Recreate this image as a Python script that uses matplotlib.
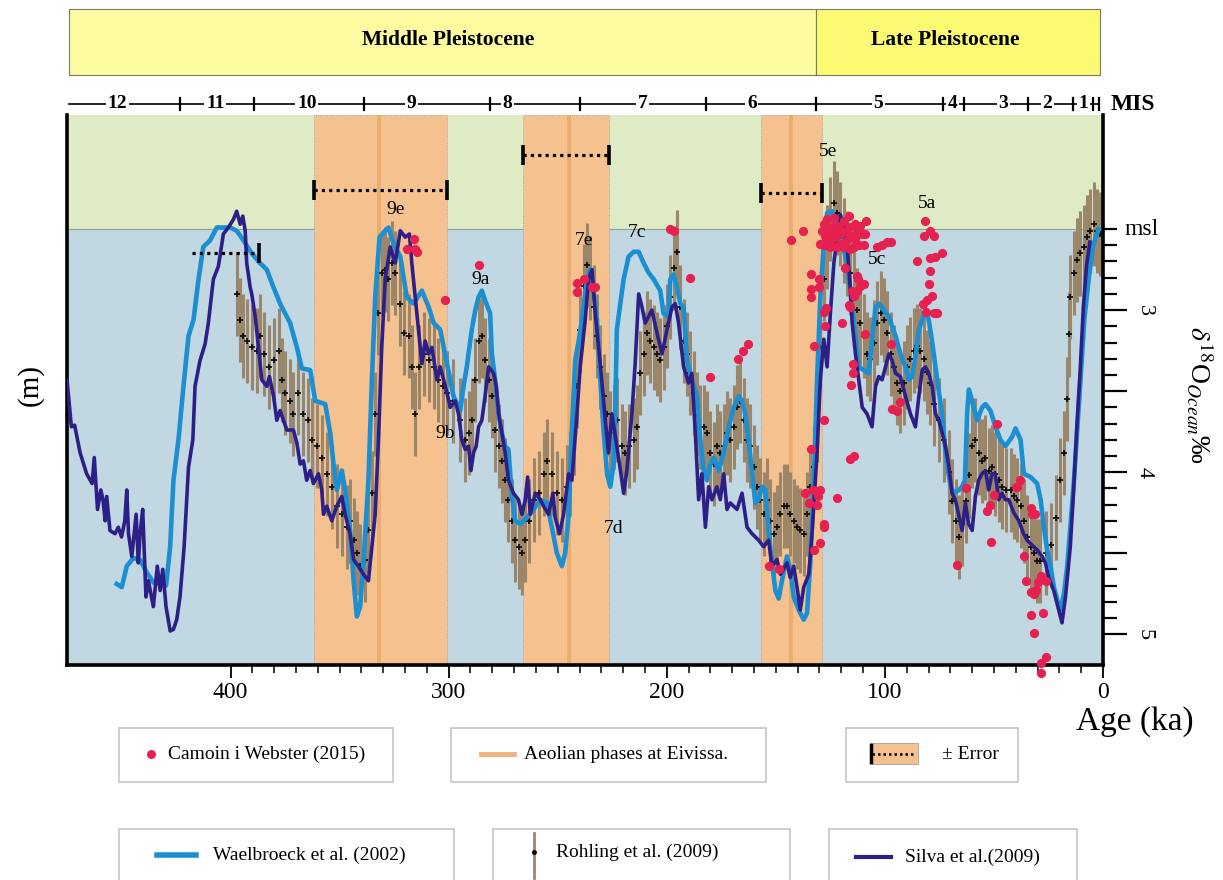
import numpy as np
import matplotlib
matplotlib.use("Agg")
import matplotlib.pyplot as plt
import matplotlib.transforms as mtransforms
from matplotlib.patches import Rectangle
from matplotlib.lines import Line2D

plt.rcParams['font.family'] = ['Liberation Serif', 'DejaVu Serif']
plt.rcParams['mathtext.fontset'] = 'stix'

# ---- data (age in ka, d18O ocean in per mil) ----
silva_age = [475.0, 473.0, 471.5, 469.0, 466.0, 463.5, 462.5, 461.0, 459.5, 458.5, 457.5, 456.8, 455.3, 453.0,
             451.5, 450.0, 448.5, 447.6, 446.8, 445.3, 443.3, 442.3, 441.5, 440.3, 438.8, 437.7, 435.4, 433.6,
             432.3, 431.1, 429.6, 427.7, 426.2, 424.7, 423.2, 421.3, 420.1, 419.3, 417.3, 416.3, 414.0, 411.7,
             410.2, 407.9, 405.6, 403.3, 401.0, 398.7, 397.2, 395.6, 394.4, 393.3, 392.6, 391.0, 390.3, 388.7,
             387.2, 385.7, 383.4, 382.2, 380.3, 378.8, 377.3, 374.2, 371.2, 369.6, 368.1, 366.6, 365.1, 363.5,
             362.0, 359.7, 358.2, 357.4, 355.9, 353.6, 351.3, 349.0, 347.5, 345.2, 343.6, 341.4, 339.1, 336.8,
             335.2, 333.7, 332.2, 330.7, 329.1, 326.8, 324.5, 322.2, 319.9, 318.0, 316.9, 314.6, 312.3, 310.8,
             309.2, 307.7, 305.4, 303.9, 300.8, 299.3, 297.0, 295.5, 294.0, 292.4, 290.9, 289.8, 288.6, 287.4,
             286.3, 284.8, 283.3, 281.7, 279.4, 278.2, 277.1, 275.6, 274.1, 272.6, 270.3, 268.0, 266.4, 264.9,
             263.8, 262.6, 260.3, 258.0, 256.5, 254.2, 252.2, 251.2, 249.2, 247.3, 245.0, 243.5, 241.2, 239.7,
             237.4, 235.9, 234.3, 232.8, 230.5, 228.2, 226.7, 225.2, 222.9, 220.6, 219.8, 218.3, 216.0, 214.5,
             212.9, 211.4, 209.9, 206.8, 204.5, 202.2, 199.9, 197.6, 196.1, 194.6, 192.3, 190.0, 188.5, 186.9,
             185.4, 183.9, 182.3, 180.8, 179.3, 177.0, 175.5, 173.9, 172.4, 170.9, 167.8, 165.5, 163.2, 160.9,
             157.9, 155.6, 153.3, 151.8, 149.5, 147.9, 144.9, 143.4, 141.8, 140.3, 138.8, 137.2, 134.9, 133.4,
             131.1, 129.6, 128.0, 126.5, 125.0, 123.4, 121.9, 120.4, 118.8, 117.3, 115.8, 115.0, 113.5, 112.0,
             110.4, 108.2, 105.9, 104.3, 102.8, 101.3, 99.7, 98.2, 96.7, 95.1, 92.9, 90.6, 88.3, 86.0, 84.4,
             82.9, 81.4, 79.9, 78.3, 76.8, 75.3, 73.7, 72.2, 70.8, 69.2, 67.7, 66.2, 64.6, 63.1, 61.6, 60.0,
             58.5, 57.0, 55.5, 53.9, 52.4, 50.9, 49.4, 47.8, 46.3, 44.8, 43.2, 40.9, 38.6, 36.4, 34.8, 33.3,
             31.8, 30.2, 27.9, 26.4, 24.9, 22.6, 20.3, 18.8, 17.2, 15.0, 13.5, 12.0, 10.5, 9.0, 7.5, 6.0]
silva_d18o = [3.43, 3.72, 3.71, 3.88, 4.01, 4.07, 3.91, 4.23, 4.11, 4.17, 4.30, 4.15, 4.36, 4.38,
              4.34, 4.40, 4.30, 4.11, 4.38, 4.52, 4.26, 4.56, 4.38, 4.23, 4.77, 4.67, 4.83, 4.58,
              4.73, 4.60, 4.83, 4.98, 4.97, 4.91, 4.77, 4.46, 4.17, 3.97, 3.80, 3.47, 3.31, 3.21,
              3.08, 2.81, 2.73, 2.53, 2.49, 2.44, 2.39, 2.47, 2.42, 2.51, 2.71, 2.86, 2.90, 3.04,
              3.23, 3.43, 3.47, 3.41, 3.53, 3.68, 3.62, 3.74, 3.74, 3.82, 3.95, 3.93, 4.05, 3.99,
              4.07, 4.01, 4.11, 4.26, 4.21, 4.30, 4.21, 4.15, 4.26, 4.38, 4.54, 4.58, 4.63, 4.67,
              4.46, 4.26, 3.80, 3.23, 2.81, 2.61, 2.71, 2.51, 2.55, 2.53, 2.71, 3.02, 3.33, 3.19,
              3.27, 3.23, 3.43, 3.35, 3.51, 3.60, 3.56, 3.64, 3.80, 3.86, 3.84, 3.99, 3.88, 3.84,
              3.72, 3.68, 3.53, 3.35, 3.39, 3.47, 3.64, 3.76, 3.88, 4.05, 4.13, 4.17, 4.26, 4.17,
              4.03, 4.26, 4.13, 4.17, 4.21, 4.26, 4.13, 4.28, 4.38, 4.26, 4.01, 4.05, 3.64, 3.35,
              3.06, 2.81, 2.75, 3.02, 3.33, 3.68, 3.88, 3.64, 3.84, 4.05, 4.13, 3.99, 3.64, 3.33,
              2.90, 2.98, 3.08, 3.00, 3.14, 3.27, 3.12, 2.98, 2.96, 3.08, 3.35, 3.45, 3.39, 3.76,
              4.17, 4.01, 4.34, 4.09, 4.17, 4.09, 4.17, 4.01, 4.23, 4.19, 4.23, 4.13, 4.34, 4.38,
              4.42, 4.46, 4.42, 4.58, 4.54, 4.63, 4.56, 4.65, 4.58, 4.71, 4.85, 4.71, 4.63, 4.38,
              3.88, 3.43, 3.18, 3.35, 3.02, 2.71, 2.55, 2.41, 2.49, 2.61, 2.88, 3.08, 3.27, 3.43,
              3.60, 3.64, 3.72, 3.47, 3.41, 3.43, 3.35, 3.27, 3.31, 3.39, 3.41, 3.53, 3.64, 3.72, 3.53,
              3.37, 3.35, 3.39, 3.47, 3.64, 3.68, 3.76, 3.84, 3.95, 4.13, 4.17, 4.26, 4.36, 4.19, 4.32, 4.36,
              4.15, 4.05, 4.01, 3.99, 4.11, 4.01, 4.01, 4.17, 4.13, 4.17, 4.17, 4.25, 4.30, 4.38, 4.42, 4.44,
              4.46, 4.48, 4.52, 4.56, 4.65, 4.73, 4.85, 4.93, 4.77, 4.46, 4.12, 3.72, 3.38, 2.98, 2.72, 2.58]

waelbroeck_age = [452.2, 449.9, 447.6, 444.6, 441.5, 438.4, 435.4, 432.3, 429.6, 427.7, 426.2, 423.9, 421.6,
                  419.3, 417.0, 414.7, 412.5, 409.4, 406.3, 403.3, 400.2, 397.2, 394.1, 390.3, 386.5, 383.4,
                  380.3, 377.3, 372.7, 369.6, 367.3, 363.5, 361.2, 356.6, 354.3, 352.8, 351.3, 349.0, 347.5,
                  345.2, 343.6, 342.1, 340.6, 339.1, 336.8, 335.2, 333.7, 331.7, 329.1, 327.6, 325.3, 322.2,
                  319.2, 316.1, 312.3, 309.2, 306.9, 303.9, 297.8, 294.7, 293.2, 291.7, 289.4, 287.8, 286.3,
                  284.8, 283.3, 281.0, 280.2, 278.7, 277.1, 275.6, 274.1, 272.6, 271.0, 269.5, 267.2, 264.1,
                  261.1, 258.0, 255.0, 252.7, 250.4, 248.1, 246.6, 245.0, 243.5, 242.0, 240.4, 238.9, 236.6,
                  235.1, 233.6, 232.0, 230.5, 229.0, 227.4, 225.9, 224.4, 223.6, 222.9, 221.3, 219.8, 217.5,
                  215.2, 212.9, 210.6, 208.3, 206.0, 203.0, 201.5, 199.2, 198.4, 196.9, 195.3, 193.8, 192.3,
                  190.7, 188.5, 186.2, 184.6, 183.1, 181.6, 180.0, 178.5, 176.2, 173.9, 171.6, 169.3, 167.0,
                  165.5, 164.0, 162.5, 160.9, 159.4, 157.9, 156.3, 154.8, 153.3, 151.8, 150.2, 148.7, 147.2,
                  144.9, 143.4, 141.8, 139.5, 137.2, 135.7, 134.2, 132.6, 131.1, 129.6, 128.1, 126.5, 124.2,
                  122.7, 121.1, 117.3, 115.0, 113.5, 112.0, 109.7, 107.4, 105.9, 104.3, 102.8, 100.5, 98.2,
                  96.7, 95.1, 92.9, 90.6, 89.0, 87.5, 86.0, 84.4, 82.9, 81.4, 79.9, 78.3, 76.8, 75.3, 73.7,
                  72.2, 70.0, 68.4, 66.1, 64.6, 63.3, 62.3, 61.5, 60.0, 57.7, 55.4, 53.9, 51.6, 49.3, 47.0,
                  44.7, 41.6, 40.1, 37.8, 36.3, 33.2, 30.2, 28.6, 27.1, 25.6, 24.1, 22.5, 20.2, 19.5, 17.9,
                  16.4, 14.9, 13.3, 11.8, 10.3, 8.5, 6.5, 4.5, 2.0]
waelbroeck_d18o = [4.69, 4.71, 4.58, 4.53, 4.54, 4.62, 4.68, 4.69, 4.70, 4.46, 4.05, 3.80, 3.47,
                   3.16, 3.06, 2.81, 2.61, 2.57, 2.49, 2.49, 2.49, 2.51, 2.57, 2.65, 2.71, 2.75,
                   2.86, 2.96, 3.08, 3.23, 3.36, 3.37, 3.56, 3.58, 3.76, 3.95, 4.11, 3.99, 4.11,
                   4.36, 4.67, 4.89, 4.83, 4.56, 4.05, 3.43, 2.92, 2.55, 2.51, 2.49, 2.59, 2.67,
                   2.92, 2.96, 2.88, 2.98, 3.08, 3.12, 3.53, 3.62, 3.47, 3.35, 3.12, 3.00, 2.92,
                   2.88, 2.94, 3.02, 3.27, 3.43, 3.64, 3.76, 3.84, 3.86, 4.15, 4.30, 4.32, 4.28,
                   4.23, 4.17, 4.19, 4.34, 4.50, 4.58, 4.50, 4.26, 3.74, 3.31, 3.19, 3.06, 2.81,
                   2.75, 2.88, 3.06, 3.43, 3.74, 4.01, 4.09, 3.95, 3.60, 3.12, 2.96, 2.81, 2.67,
                   2.64, 2.64, 2.71, 2.77, 2.81, 2.88, 3.02, 3.04, 2.81, 2.78, 2.86, 2.96, 2.98,
                   3.31, 3.43, 3.53, 3.80, 3.99, 4.05, 3.95, 3.91, 3.99, 3.88, 3.72, 3.60, 3.53,
                   3.56, 3.64, 3.80, 4.01, 4.19, 4.17, 4.09, 4.11, 4.36, 4.56, 4.73, 4.78, 4.67,
                   4.52, 4.60, 4.77, 4.85, 4.91, 4.87, 4.56, 4.05, 3.43, 2.92, 2.61, 2.40, 2.39,
                   2.49, 2.51, 2.71, 2.98, 3.16, 3.35, 3.37, 3.39, 3.19, 2.98, 2.96, 3.00, 3.04,
                   3.10, 3.16, 3.27, 3.35, 3.43, 3.41, 3.29, 3.12, 3.06, 3.00, 3.06, 3.20, 3.35, 3.50, 3.65,
                   3.88, 4.08, 4.13, 4.11, 4.09, 4.05, 3.64, 3.49, 3.56, 3.68, 3.60, 3.58, 3.62, 3.72, 3.80,
                   3.84, 3.78, 3.73, 3.80, 4.01, 4.03, 4.07, 4.17, 4.34, 4.48, 4.58, 4.71, 4.83, 4.85, 4.75,
                   4.58, 4.32, 4.05, 3.74, 3.43, 3.05, 2.80, 2.60, 2.50]

rohling_age = [397.2, 395.6, 394.1, 392.6, 390.3, 388.0, 386.5, 384.9, 382.6, 380.3, 378.0, 376.5, 375.0,
               372.7, 371.2, 368.9, 366.6, 364.3, 362.8, 360.5, 358.2, 355.9, 353.6, 351.3, 349.0, 346.7,
               345.2, 343.6, 342.1, 340.6, 338.3, 336.8, 335.2, 333.7, 332.2, 330.6, 329.1, 327.6, 326.1,
               324.5, 322.2, 320.7, 318.4, 316.9, 315.4, 313.8, 311.5, 309.2, 306.9, 304.7, 302.4, 300.8,
               297.8, 294.7, 292.4, 290.9, 289.4, 287.8, 286.3, 284.8, 283.3, 281.7, 280.2, 278.7, 277.1,
               275.6, 274.1, 272.6, 271.0, 269.5, 267.9, 266.4, 264.9, 263.4, 261.1, 258.8, 256.5, 255.0,
               252.7, 250.4, 248.1, 245.8, 244.3, 242.7, 241.2, 239.7, 238.1, 236.6, 235.1, 233.6, 232.0,
               230.5, 229.0, 227.4, 225.9, 224.4, 222.9, 220.6, 219.0, 217.5, 215.2, 213.7, 212.1, 210.6,
               209.1, 207.6, 206.0, 204.5, 203.0, 201.5, 199.9, 198.4, 196.9, 195.3, 193.8, 192.3, 190.7,
               189.2, 187.7, 186.2, 184.6, 183.1, 181.6, 180.0, 178.5, 177.0, 175.5, 173.9, 172.4, 170.9,
               169.3, 167.8, 166.3, 164.8, 163.2, 161.7, 160.2, 158.6, 157.1, 155.6, 154.1, 152.5, 151.0,
               149.5, 147.9, 146.4, 144.9, 143.4, 141.8, 140.3, 138.8, 137.2, 135.7, 134.2, 132.6, 131.1,
               129.6, 128.1, 126.5, 125.0, 123.4, 121.9, 120.4, 118.8, 117.3, 115.8, 114.3, 112.7, 111.2,
               109.7, 108.1, 106.6, 105.1, 103.6, 102.0, 100.5, 99.0, 97.4, 95.9, 94.4, 92.9, 91.3, 89.8,
               88.3, 86.7, 85.2, 83.7, 82.1, 80.6, 79.1, 77.6, 75.3, 73.0, 70.7, 69.2, 67.6, 66.1, 64.6,
               63.0, 61.5, 60.0, 58.5, 56.9, 55.4, 53.9, 52.3, 50.8, 49.3, 47.8, 46.2, 44.7, 42.4, 40.9,
               39.3, 37.8, 36.3, 34.8, 33.2, 31.7, 30.2, 28.7, 26.0, 24.0, 21.5, 19.5, 18.0, 16.5, 15.7,
               15.0, 13.4, 11.9, 10.4, 8.8, 7.3, 5.8, 4.3, 2.7, 1.2]
rohling_d18o = [2.90, 3.06, 3.16, 3.19, 3.23, 3.25, 3.16, 3.27, 3.35, 3.31, 3.25, 3.43, 3.51,
                3.56, 3.64, 3.51, 3.64, 3.68, 3.80, 3.84, 3.91, 4.01, 4.09, 4.21, 4.26, 4.34,
                4.30, 4.42, 4.50, 4.58, 4.54, 4.36, 4.13, 3.64, 3.02, 2.77, 2.75, 2.81, 2.71,
                2.77, 2.96, 3.14, 3.16, 3.35, 3.64, 3.35, 3.27, 3.31, 3.35, 3.43, 3.47, 3.51,
                3.56, 3.68, 3.80, 3.76, 3.68, 3.43, 3.19, 3.16, 3.31, 3.43, 3.53, 3.74, 3.84,
                3.93, 4.05, 4.17, 4.30, 4.42, 4.46, 4.50, 4.42, 4.30, 4.17, 4.13, 4.01, 3.93,
                4.01, 4.13, 4.17, 4.09, 4.01, 3.76, 3.47, 3.12, 2.85, 2.72, 2.80, 2.98, 3.16,
                3.35, 3.53, 3.64, 3.76, 3.72, 3.68, 3.84, 3.88, 3.84, 3.80, 3.72, 3.39, 3.27,
                3.14, 3.19, 3.23, 3.27, 3.31, 3.23, 3.10, 2.92, 2.74, 2.64, 2.98, 3.19, 3.27,
                3.39, 3.51, 3.64, 3.72, 3.72, 3.76, 3.88, 3.95, 3.84, 3.88, 3.84, 3.76, 3.80,
                3.72, 3.60, 3.56, 3.68, 3.80, 3.84, 3.97, 4.09, 4.17, 4.26, 4.17, 4.30, 4.38,
                4.34, 4.26, 4.21, 4.21, 4.26, 4.30, 4.34, 4.36, 4.38, 4.26, 4.09, 3.97, 3.68,
                3.23, 2.81, 2.61, 2.44, 2.34, 2.40, 2.47, 2.57, 2.65, 2.77, 2.88, 3.00, 3.08,
                3.16, 3.27, 3.30, 3.20, 3.08, 3.02, 3.06, 3.14, 3.27, 3.35, 3.45, 3.50, 3.45, 3.35,
                3.30, 3.25, 3.22, 3.25, 3.30, 3.38, 3.45, 3.58, 3.68, 3.80, 4.00, 4.18, 4.30, 4.40, 4.32,
                4.18, 4.02, 3.84, 3.80, 3.88, 3.93, 3.91, 3.99, 3.97, 4.01, 4.05, 4.09, 4.11, 4.11, 4.15,
                4.17, 4.21, 4.30, 4.40, 4.46, 4.50, 4.55, 4.55, 4.50, 4.45, 4.28, 4.05, 3.88, 3.55, 3.15,
                2.92, 2.77, 2.69, 2.65, 2.61, 2.55, 2.51, 2.47, 2.51, 2.53]
rohling_err = 0.26

camoin_age = [316.1, 319.2, 315.4, 314.6, 301.6, 286.0, 241.2, 241.2, 237.9, 234.3, 232.8, 198.4, 196.9,
              189.5, 180.3, 167.4, 165.2, 162.9, 153.3, 148.7, 143.0, 137.5,
              133.9, 133.9, 133.8, 130.0, 130.0, 128.0, 126.8, 127.3, 132.6, 128.1, 133.9, 136.5, 133.1,
              129.6, 134.9, 130.7, 131.1, 127.7, 127.7, 129.9, 132.6, 121.9,
              128.8, 128.0, 127.3, 126.5, 125.7, 125.0, 124.2, 123.4, 122.7, 121.9, 121.1, 120.4, 119.6,
              118.8, 118.1, 117.3, 116.6, 115.8, 115.0, 114.3, 113.5, 112.7, 112.0, 111.2, 110.4, 109.7,
              108.5, 108.9, 128.0, 125.0, 121.1, 129.6, 126.5, 123.4, 118.8, 115.8, 113.5,
              119.6, 118.1, 116.6, 115.0, 113.0, 112.4, 111.2, 109.7, 115.8, 114.0, 112.7, 114.6, 114.6,
              115.5, 115.8, 114.0, 108.9, 97.1, 96.7, 94.4, 92.9,
              103.6, 101.3, 99.0, 97.4,
              81.8, 79.1, 82.2, 77.3, 85.2, 79.1, 76.8, 73.7, 79.4, 79.9, 78.3, 80.6, 82.5, 81.2, 77.6, 76.0,
              48.5, 62.6, 50.0, 51.9, 53.1, 51.3, 66.9, 39.3, 38.1, 40.1, 33.2, 32.5, 31.4, 36.3, 35.5,
              33.2, 31.7, 30.5, 29.9, 28.3, 26.3, 32.9, 27.4, 31.7, 26.3, 28.2, 28.3]
camoin_d18o = [2.56, 2.62, 2.62, 2.64, 2.94, 2.72, 2.83, 2.89, 2.81, 2.86, 2.86, 2.50, 2.51,
               2.80, 3.41, 3.30, 3.25, 3.21, 4.58, 4.60, 2.57, 2.51,
               2.78, 2.87, 2.92, 2.81, 2.86, 3.01, 2.99, 3.10, 3.22, 3.68, 3.86, 4.13, 4.11,
               4.11, 4.19, 4.15, 4.20, 4.32, 4.34, 4.44, 4.48, 4.16,
               2.51, 2.47, 2.54, 2.44, 2.52, 2.58, 2.49, 2.43, 2.55, 2.61, 2.48, 2.53, 2.59,
               2.45, 2.51, 2.57, 2.42, 2.49, 2.54, 2.61, 2.47, 2.52, 2.60, 2.48, 2.53, 2.60,
               2.45, 2.53, 2.60, 2.61, 2.60, 2.59, 2.56, 2.50, 2.61, 2.62, 2.56,
               3.08, 2.74, 2.97, 2.88, 2.79, 2.81, 2.85, 2.84, 2.98, 2.91, 2.88, 3.33, 3.39,
               3.46, 3.92, 3.90, 3.15, 3.21, 3.61, 3.62, 3.57,
               2.61, 2.60, 2.58, 2.58,
               2.45, 2.51, 2.54, 2.54, 2.70, 2.68, 2.67, 2.65, 2.76, 2.84, 2.91, 2.94, 2.96, 3.01, 3.02, 3.02,
               3.70, 4.10, 4.14, 4.20, 4.24, 4.43, 4.57, 4.09, 4.05, 4.09, 4.22, 4.26, 4.26, 4.52, 4.67,
               4.74, 4.75, 4.73, 4.68, 4.64, 4.67, 4.88, 4.87, 4.99, 5.14, 5.18, 5.24]

# aeolian phases at Eivissa: age, error window, level of the error bar
aeolian_age = [332, 245, 143]
aeolian_old = [361.6, 265.7, 156.8]
aeolian_young = [300.8, 226.4, 128.7]
aeolian_err_level = [2.26, 2.04, 2.28]

mis_labels = ['12', '11', '10', '9', '8', '7', '6', '5', '4', '3', '2', '1']
mis_label_age = [452, 407, 365, 317, 273, 211, 161, 103, 69, 45.6, 25.5, 9]
mis_bounds = [423.4, 389.2, 339, 281, 240, 182, 131.6, 73.4, 63.8, 34.6, 13.6, 4.5, 1.8]

substages = ['9e', '9a', '9b', '7e', '7c', '7d', '5e', '5c', '5a']
substage_age = [324.5, 285.6, 301.6, 237.8, 213.7, 224.4, 125.9, 103.6, 80.6]
substage_d18o = [2.38, 2.81, 3.76, 2.57, 2.52, 4.35, 2.02, 2.69, 2.34]

W, H = 1223, 880
fx = lambda x: x / W
fy = lambda y: 1 - y / H

fig = plt.figure(figsize=(12.23, 8.8), dpi=100)
ax = fig.add_axes([fx(67), fy(665), 1036 / W, 550 / H])
ax.set_xlim(475, 0)
ax.set_ylim(5.19, 1.796)

ax.axhspan(1.796, 2.5, color='#deebc4', zorder=0)
ax.axhspan(2.5, 5.19, color='#c1d7e2', zorder=0)
ax.axhline(2.5, color='#93a58c', lw=0.8, zorder=0.5)

for a, o, yg in zip(aeolian_age, aeolian_old, aeolian_young):
    ax.axvspan(yg, o, facecolor='#f5c18f', edgecolor='#9a9a9a', lw=0.6, ls=':', zorder=1)
    ax.axvline(a, color='#e9ad6d', lw=2.8, zorder=1.1)

# Rohling et al. 2009
ax.vlines(rohling_age, np.array(rohling_d18o) - rohling_err, np.array(rohling_d18o) + rohling_err,
          color='#9c8669', lw=2.2, zorder=2)
ax.plot(rohling_age, rohling_d18o, ls='none', marker='+', ms=4, mew=1.3, color='#111111', zorder=2.5)

ax.plot(waelbroeck_age, waelbroeck_d18o, color='#1b8fd2', lw=3.3, zorder=3)
ax.plot(silva_age, silva_d18o, color='#2c1f88', lw=2.6, zorder=3.5)
ax.scatter(camoin_age, camoin_d18o, s=44, color='#e6204f', linewidths=0, zorder=4, clip_on=False)

# +- error bars of the aeolian phases
for o, yg, lev in zip(aeolian_old, aeolian_young, aeolian_err_level):
    ax.plot([o, yg], [lev, lev], color='k', ls=(0, (1, 1.3)), lw=2.3, zorder=5)
    ax.plot([o, yg], [lev, lev], ls='none', marker='|', ms=14, mew=2.6, color='k', zorder=5)
ax.plot([417.8, 386.9], [2.646, 2.646], color='k', ls=(0, (1, 1.3)), lw=2.3, zorder=5)
ax.plot([386.9], [2.646], ls='none', marker='|', ms=14, mew=2.6, color='k', zorder=5)

for s, a, d in zip(substages, substage_age, substage_d18o):
    ax.text(a, d, s, fontsize=14, ha='center', va='center', zorder=6)

# axes styling
ax.spines['top'].set_visible(False)
for side in ['left', 'bottom', 'right']:
    ax.spines[side].set_linewidth(2.6)
ax.set_xticks([400, 300, 200, 100, 0])
ax.set_xticks(np.arange(10, 400, 10), minor=True)
ax.tick_params(axis='x', which='major', direction='out', length=9, width=1.3, labelsize=17, pad=3)
ax.tick_params(axis='x', which='minor', direction='out', length=6, width=1.1)
ax.yaxis.tick_right()
ax.set_yticks([3, 3.5, 4, 4.5, 5])
ax.set_yticklabels(['3', '', '4', '', '5'], rotation=-90, va='center')
ax.set_yticks(np.arange(2.5, 5.01, 0.1), minor=True)
ax.tick_params(axis='y', which='major', direction='out', length=17, width=1.6, labelsize=16, pad=6)
ax.tick_params(axis='y', which='minor', direction='out', length=10, width=1.6)
ax.tick_params(axis='y', which='both', left=False)
tr_y = mtransforms.blended_transform_factory(ax.transAxes, ax.transData)
ax.text(1.021, 2.5, 'msl', transform=tr_y, fontsize=17, va='center', ha='left')

fig.text(fx(30), fy(385), '(m)', rotation=90, fontsize=21, ha='center', va='center')
fig.text(fx(1199), fy(395), r'$\delta^{18}$O$_{Ocean}$‰', rotation=-90, fontsize=20,
         ha='center', va='center')
fig.text(fx(1135), fy(722), 'Age (ka)', fontsize=24, ha='center', va='center')

# header boxes
fig.add_artist(Rectangle((fx(69), fy(75)), 747 / W, 66 / H, transform=fig.transFigure,
                         facecolor='#fdfba0', edgecolor='#7a7a6a', lw=0.8))
fig.add_artist(Rectangle((fx(816), fy(75)), 284 / W, 66 / H, transform=fig.transFigure,
                         facecolor='#fcfa72', edgecolor='#7a7a6a', lw=0.8))
fig.text(fx(448), fy(40), 'Middle Pleistocene', fontsize=15.5, fontweight='bold', ha='center', va='center')
fig.text(fx(945), fy(40), 'Late Pleistocene', fontsize=15.5, fontweight='bold', ha='center', va='center')

# MIS row
tr_mis = mtransforms.blended_transform_factory(ax.transData, fig.transFigure)
ym = fy(104)
ax.plot([473.9, 1.8], [ym, ym], transform=tr_mis, color='k', lw=1.2, clip_on=False, zorder=7)
for b in mis_bounds:
    ax.plot([b, b], [ym - 6 / H, ym + 6 / H], transform=tr_mis, color='k', lw=1.6, clip_on=False, zorder=9)
for lab, a in zip(mis_labels, mis_label_age):
    ax.text(a, ym, lab, transform=tr_mis, fontsize=14, fontweight='bold', ha='center', va='center',
            bbox=dict(fc='white', ec='none', pad=1.2), clip_on=False, zorder=8)
fig.text(fx(1133), ym, 'MIS', fontsize=17, fontweight='bold', ha='center', va='center')

# legend boxes
boxes = [(119, 728, 393, 782), (451, 728, 766, 782), (846, 728, 1018, 782),
         (119, 829, 454, 892), (493, 829, 790, 892), (829, 829, 1077, 892)]
for x0, y0, x1, y1 in boxes:
    fig.add_artist(Rectangle((fx(x0), fy(y1)), (x1 - x0) / W, (y1 - y0) / H, transform=fig.transFigure,
                             facecolor='white', edgecolor='#c6c6c6', lw=1.2))

def fline(xs, ys, **kw):
    fig.add_artist(Line2D([fx(v) for v in xs], [fy(v) for v in ys], transform=fig.transFigure, **kw))

fline([151], [754], ls='none', marker='o', ms=6.5, color='#e6204f', mew=0)
fig.text(fx(168), fy(754), 'Camoin i Webster (2015)', fontsize=14, va='center')
fline([481, 514], [754, 754], color='#f0b27a', lw=3.5)
fig.text(fx(524), fy(754), 'Aeolian phases at Eivissa.', fontsize=14, va='center')
fig.add_artist(Rectangle((fx(870), fy(764)), 48 / W, 21 / H, transform=fig.transFigure,
                         facecolor='#f5c18f', edgecolor='#a0a0a0', lw=0.6))
fline([872, 916], [753.5, 753.5], color='k', ls=(0, (1, 1.2)), lw=1.8)
fline([871, 871], [745, 762], color='k', lw=2.5)
fig.text(fx(942), fy(754), '± Error', fontsize=14, va='center')
fline([157, 196], [855, 855], color='#1b8fd2', lw=4)
fig.text(fx(213), fy(855), 'Waelbroeck et al. (2002)', fontsize=14, va='center')
fline([534, 534], [833, 878], color='#9c8669', lw=2)
fline([534], [852], ls='none', marker='o', ms=2.5, color='k')
fig.text(fx(556), fy(852), 'Rohling et al. (2009)', fontsize=14, va='center')
fline([856, 891], [857, 857], color='#2c1f88', lw=3)
fig.text(fx(905), fy(857), 'Silva et al.(2009)', fontsize=14, va='center')

fig.savefig('out.png', dpi=100, facecolor='white')
